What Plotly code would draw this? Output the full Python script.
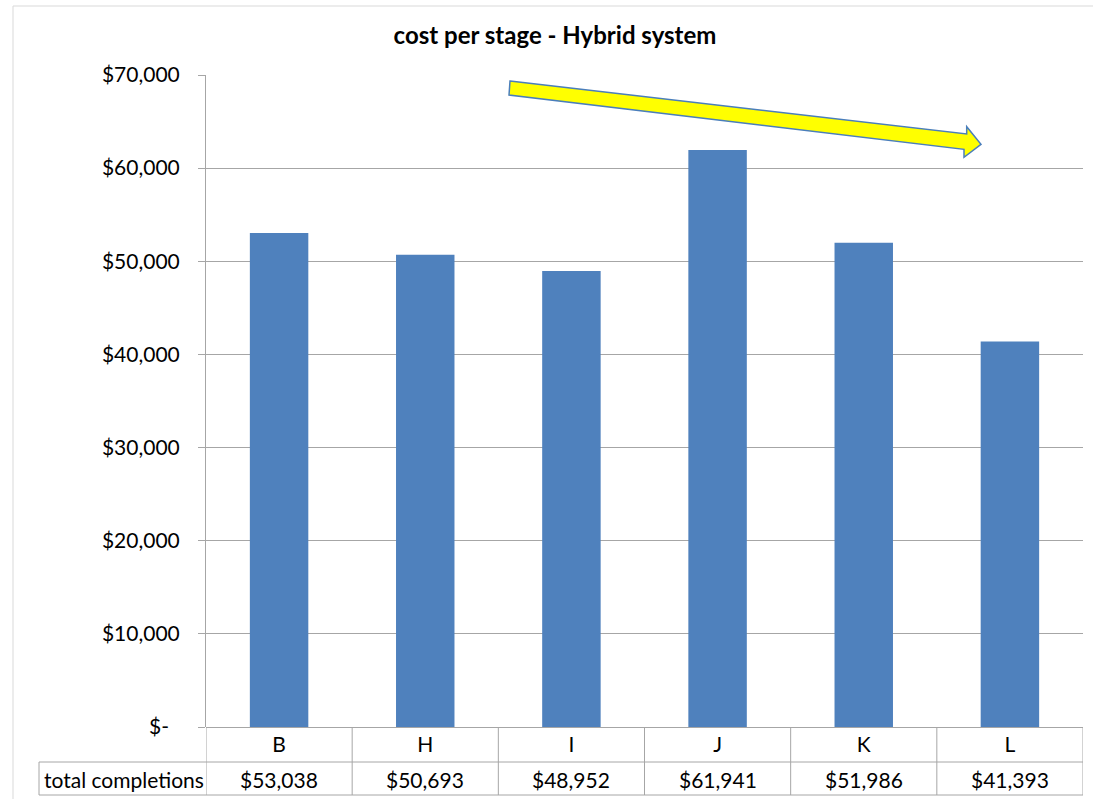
import plotly.graph_objects as go

# Stage cost data
stages = ["B", "H", "I", "J", "K", "L"]
completion_costs = [53038, 50693, 48952, 61941, 51986, 41393]
row_label = "total completions"
y_tick_values = [0, 10000, 20000, 30000, 40000, 50000, 60000, 70000]
y_tick_text = ["$-\u00a0\u00a0", "$10,000", "$20,000", "$30,000", "$40,000",
               "$50,000", "$60,000", "$70,000"]

W, H = 1093, 799
L, R, T, B = 206, 10, 75, 72
PW, PH = W - L - R, H - T - B

FONT = "Lato"
FS = 21
GRID = "#a6a6a6"
BAR = "#4f81bd"


def px(x):
    return (x - L) / PW


def py(y):
    return (H - B - y) / PH


fig = go.Figure()
fig.add_trace(go.Bar(
    x=stages, y=completion_costs, width=0.4,
    marker=dict(color=BAR, line=dict(width=0)),
    hoverinfo="x+y",
))

shapes = []
line_style = dict(color=GRID, width=1)
row1_bottom, row2_bottom = py(762), py(795)
label_left = px(39)

# data table grid under the plot
shapes.append(dict(type="line", xref="paper", yref="paper", x0=label_left, x1=1,
                   y0=row1_bottom, y1=row1_bottom, line=line_style))
shapes.append(dict(type="line", xref="paper", yref="paper", x0=label_left, x1=1,
                   y0=row2_bottom, y1=row2_bottom, line=line_style))
shapes.append(dict(type="line", xref="paper", yref="paper", x0=label_left, x1=label_left,
                   y0=row1_bottom, y1=row2_bottom, line=line_style))
for i in range(len(stages) + 1):
    shapes.append(dict(type="line", xref="x", yref="paper", x0=i - 0.5, x1=i - 0.5,
                       y0=0, y1=row2_bottom, line=line_style))

# outer chart frame
shapes.append(dict(type="rect", xref="paper", yref="paper",
                   x0=px(13), x1=px(1120), y0=py(6), y1=py(830),
                   line=dict(color="#d9d9d9", width=1), layer="below"))

# trend arrow
arrow_pts = [(510, 81), (966.7, 134), (966.7, 126.7), (981, 144.3),
             (964, 157.3), (964, 149.3), (509, 95)]
path = "M " + " L ".join(f"{px(x):.5f},{py(y):.5f}" for x, y in arrow_pts) + " Z"
shapes.append(dict(type="path", xref="paper", yref="paper", path=path,
                   fillcolor="#ffff00", line=dict(color="#4a7ebb", width=1.5)))

annotations = [dict(xref="paper", yref="paper", x=px(42), y=py(779),
                    text=row_label, showarrow=False, xanchor="left",
                    yanchor="middle", font=dict(family=FONT, size=FS, color="#000"))]
for s, v in zip(stages, completion_costs):
    annotations.append(dict(xref="x", yref="paper", x=s, y=py(779),
                            text=f"${v:,}", showarrow=False, xanchor="center",
                            yanchor="middle",
                            font=dict(family=FONT, size=FS, color="#000")))

fig.update_layout(
    width=W, height=H,
    margin=dict(l=L, r=R, t=T, b=B, pad=0),
    paper_bgcolor="white", plot_bgcolor="white",
    showlegend=False,
    title=dict(text="<b>cost per stage - Hybrid system</b>", xref="container",
               yref="container", x=555 / W, y=1 - 36 / H, xanchor="center",
               yanchor="middle", font=dict(family=FONT, size=24, color="#000")),
    xaxis=dict(range=[-0.5, len(stages) - 0.5], showgrid=False, showline=False,
               zeroline=False, ticks="", ticklabelstandoff=3,
               tickfont=dict(family=FONT, size=FS, color="#000")),
    yaxis=dict(range=[0, 70000], tickvals=y_tick_values, ticktext=y_tick_text,
               showgrid=True, gridcolor=GRID, gridwidth=1,
               zeroline=True, zerolinecolor=GRID, zerolinewidth=1,
               showline=True, linecolor=GRID, linewidth=1,
               ticks="outside", ticklen=7, tickcolor=GRID,
               ticklabelstandoff=14,
               tickfont=dict(family=FONT, size=FS, color="#000")),
    shapes=shapes, annotations=annotations,
)

fig.write_html("out.html")
